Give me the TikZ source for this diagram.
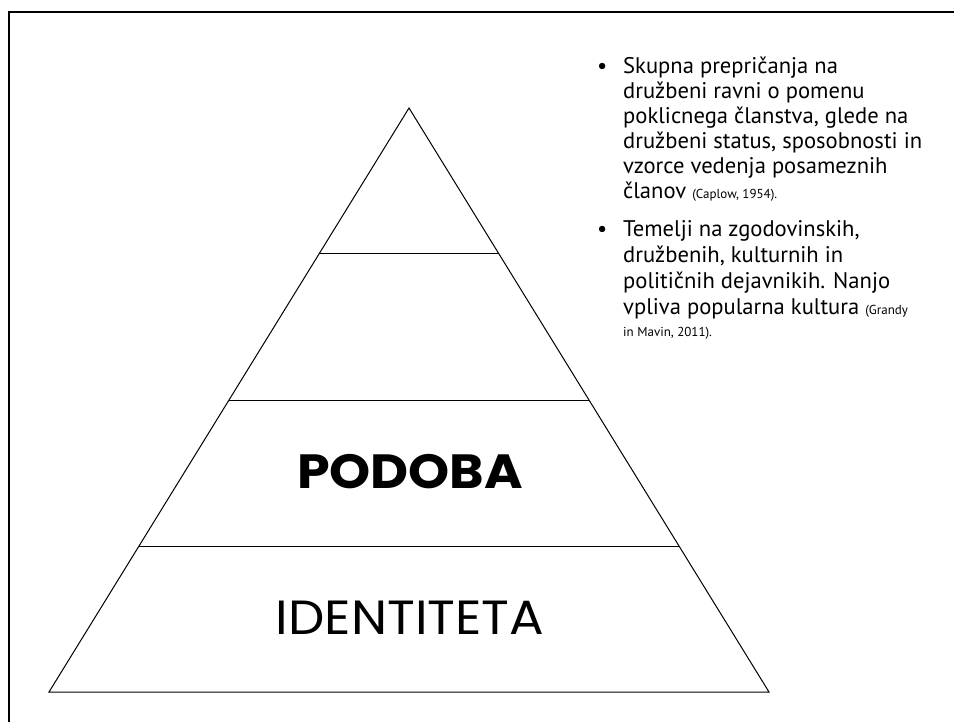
\documentclass[tikz,border=0pt]{standalone}
\usepackage{fontspec}
\setmainfont{PT Sans}
\newfontfamily\headfont{Poppins}
\usetikzlibrary{calc}
\begin{document}
\begin{tikzpicture}[x=1pt,y=-1pt,
  frame/.style={line width=2.5pt,black},
  tier/.style={line width=1pt,black},
  btext/.style={anchor=base west,inner sep=0pt,font=\fontsize{22.6}{25}\selectfont},
  cite/.style={font=\fontsize{13}{15}\selectfont},
  bigbold/.style={inner sep=0pt,font=\fontsize{48}{52}\selectfont\headfont\bfseries},
  bigreg/.style={inner sep=0pt,font=\fontsize{48}{52}\selectfont\headfont}]
\useasboundingbox (0,0) rectangle (954,722);
\fill[white] (0,0) rectangle (954,722);
% frame
\coordinate (ftr) at (956,12);
\coordinate (ftl) at (9,12);
\coordinate (fbl) at (9,724);
\draw[frame] (ftr) -- (ftl) -- (fbl);
% pyramid
\coordinate (A) at (409,108);
\coordinate (BL) at (49,692);
\coordinate (BR) at (769,692);
\draw[tier,line join=miter] (A) -- (BL) -- (BR) -- cycle;
\foreach \f/\n in {0.25/1,0.5/2,0.75/3}{
  \draw[tier] ($(A)!\f!(BL)$) coordinate (L\n) -- ($(A)!\f!(BR)$) coordinate (R\n);
}
\node[bigbold] (podoba) at (410,472) {\scalebox{1.09}[1]{PODOBA}};
\node[bigreg] (ident) at (410,618) {\scalebox{1.07}[1]{IDENTITETA}};
% bullets
\node[btext] (d1) at (597,74) {•};
\node[btext] (d2) at (597,237) {•};
\node[btext] (t1) at (623,74) {Skupna prepričanja na};
\node[btext] (t2) at (623,99) {družbeni ravni o pomenu};
\node[btext] (t3) at (623,124) {poklicnega članstva, glede na};
\node[btext] (t4) at (623,149) {družbeni status, sposobnosti in};
\node[btext] (t5) at (623,174) {vzorce vedenja posameznih};
\node[btext] (t6) at (623,199) {članov {\fontsize{13}{15}\selectfont (Caplow, 1954).}};
\node[btext] (t7) at (623,237) {Temelji na zgodovinskih,};
\node[btext] (t8) at (623,263) {družbenih, kulturnih in};
\node[btext] (t9) at (623,289) {političnih dejavnikih. Nanjo};
\node[btext] (t10) at (623,315) {vpliva popularna kultura {\fontsize{13}{15}\selectfont (Grandy}};
\node[btext,cite] (t11) at (623,337) {in Mavin, 2011).};
\end{tikzpicture}
\end{document}
